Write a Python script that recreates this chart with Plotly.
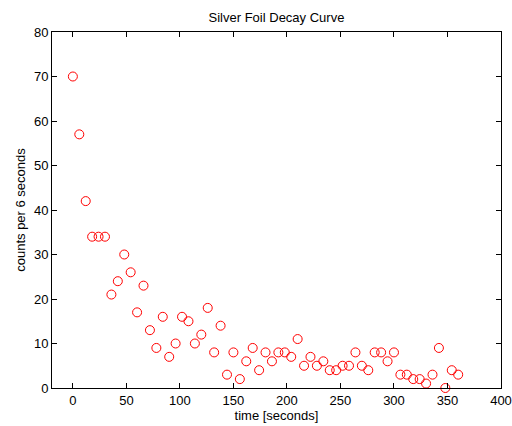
import plotly.graph_objects as go

time_s = [0, 6, 12, 18, 24, 30, 36, 42, 48, 54, 60, 66, 72, 78, 84, 90, 96, 102, 108, 114,
          120, 126, 132, 138, 144, 150, 156, 162, 168, 174, 180, 186, 192, 198, 204, 210,
          216, 222, 228, 234, 240, 246, 252, 258, 264, 270, 276, 282, 288, 294, 300, 306,
          312, 318, 324, 330, 336, 342, 348, 354, 360]
counts = [70, 57, 42, 34, 34, 34, 21, 24, 30, 26, 17, 23, 13, 9, 16, 7, 10, 16, 15, 10,
          12, 18, 8, 14, 3, 8, 2, 6, 9, 4, 8, 6, 8, 8, 7, 11,
          5, 7, 5, 6, 4, 4, 5, 5, 8, 5, 4, 8, 8, 6, 8, 3,
          3, 2, 2, 1, 3, 9, 0, 4, 3]
x_ticks = [0, 50, 100, 150, 200, 250, 300, 350, 400]
y_ticks = [0, 10, 20, 30, 40, 50, 60, 70, 80]

font = "Liberation Sans, Arial, sans-serif"
fs = 13

fig = go.Figure(go.Scatter(
    x=time_s, y=counts, mode="markers",
    marker=dict(symbol="circle-open", size=9, color="#ff0000", line=dict(width=1, color="#ff0000")),
    cliponaxis=False,
))

axis_common = dict(
    showgrid=False, zeroline=False, showline=True, linecolor="black", linewidth=1,
    mirror="ticks", ticks="inside", ticklen=5, tickcolor="black", tickwidth=1,
    tickfont=dict(family=font, size=fs, color="black"), automargin=False,
)

fig.update_layout(
    width=512, height=426,
    margin=dict(l=52, r=11, t=32, b=38, autoexpand=False),
    paper_bgcolor="white", plot_bgcolor="white",
    showlegend=False,
    title=dict(text="Silver Foil Decay Curve", x=0.54, xanchor="center", y=0.96, yanchor="middle",
               font=dict(family=font, size=fs, color="black"), automargin=False),
    xaxis=dict(range=[-19.5, 400], tickvals=x_ticks,
               title=dict(text="time [seconds]", font=dict(family=font, size=fs, color="black"), standoff=1),
               **axis_common),
    yaxis=dict(range=[0, 80], tickvals=y_ticks,
               title=dict(text="counts per 6 seconds", font=dict(family=font, size=fs, color="black"), standoff=5),
               **axis_common),
)

fig.write_html("out.html", config={"displayModeBar": False},
               post_script="document.body.style.margin='0';document.body.style.padding='0';")
